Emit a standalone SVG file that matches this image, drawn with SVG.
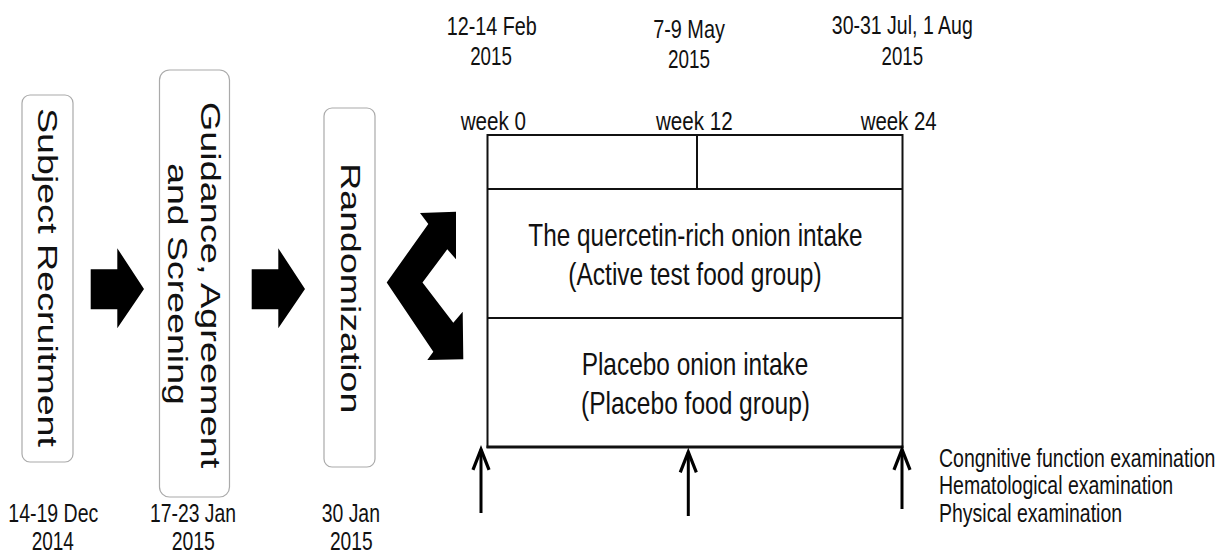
<svg xmlns="http://www.w3.org/2000/svg" width="1228" height="556" viewBox="0 0 1228 556">
<style>
.t{font-family:"Liberation Sans",Arial,sans-serif;fill:#111;}
.s{font-size:26px;}
.b{font-size:25px;}
.m{font-size:32px;}
.r{font-size:37.5px;}
.c{text-anchor:middle;}
.box{fill:#fff;stroke:#aaa;stroke-width:1.2;}
.tbl{fill:none;stroke:#111;stroke-width:2;}
.blk{fill:#000;stroke:none;}
.up{stroke:#000;stroke-width:3;fill:none;}
</style>
<defs>
<marker id="head" markerUnits="userSpaceOnUse" markerWidth="30" markerHeight="30" viewBox="-24 -12 28 24" refX="0" refY="0" orient="auto">
<path d="M-19,-7.5 L0,0 L-19,7.5" fill="none" stroke="#000" stroke-width="3" stroke-linejoin="miter"/>
</marker>
</defs>
<rect width="1228" height="556" fill="#fff"/>

<g id="node-recruitment">
<rect class="box" x="22" y="95" width="51" height="367" rx="8"/>
<text class="t r c" transform="translate(38.3,277.5) scale(0.76,1) rotate(90)" textLength="339" lengthAdjust="spacingAndGlyphs">Subject Recruitment</text>
</g>

<g id="node-screening">
<rect class="box" x="159.5" y="70" width="70" height="427" rx="10"/>
<text class="t r c" transform="translate(200.5,285) scale(0.76,1) rotate(90)" textLength="366.7" lengthAdjust="spacingAndGlyphs">Guidance, Agreement</text>
<text class="t r c" transform="translate(168,284) scale(0.76,1) rotate(90)" textLength="241.7" lengthAdjust="spacingAndGlyphs">and Screening</text>
</g>

<g id="node-randomization">
<rect class="box" x="324" y="108" width="51" height="359" rx="8"/>
<text class="t r c" transform="translate(340.5,288.3) scale(0.76,1) rotate(90)" textLength="250" lengthAdjust="spacingAndGlyphs">Randomization</text>
</g>

<g id="node-schedule">
<rect class="tbl" x="487.5" y="135" width="415" height="312"/>
<line class="tbl" x1="487.5" y1="189" x2="902.5" y2="189"/>
<line class="tbl" x1="697" y1="135" x2="697" y2="189"/>
<line class="tbl" x1="487.5" y1="318" x2="902.5" y2="318"/>
<line class="tbl" x1="486.5" y1="447" x2="903.5" y2="447" style="stroke-width:3"/>
<text class="t m c" x="695.5" y="246" textLength="334.3" lengthAdjust="spacingAndGlyphs">The quercetin-rich onion intake</text>
<text class="t m c" x="695" y="284.5" textLength="253.3" lengthAdjust="spacingAndGlyphs">(Active test food group)</text>
<text class="t m c" x="695" y="375" textLength="226.7" lengthAdjust="spacingAndGlyphs">Placebo onion intake</text>
<text class="t m c" x="695.5" y="413.5" textLength="229" lengthAdjust="spacingAndGlyphs">(Placebo food group)</text>
</g>

<g id="labels-dates-top">
<text class="t s c" x="491.7" y="34.5" textLength="90" lengthAdjust="spacingAndGlyphs">12-14 Feb</text>
<text class="t s c" x="491" y="65" textLength="41.7" lengthAdjust="spacingAndGlyphs">2015</text>
<text class="t s c" x="689" y="37.5" textLength="71.7" lengthAdjust="spacingAndGlyphs">7-9 May</text>
<text class="t s c" x="689" y="67.5" textLength="42" lengthAdjust="spacingAndGlyphs">2015</text>
<text class="t s c" x="902.3" y="33.5" textLength="141" lengthAdjust="spacingAndGlyphs">30-31 Jul, 1 Aug</text>
<text class="t s c" x="902.3" y="65" textLength="41.5" lengthAdjust="spacingAndGlyphs">2015</text>
</g>

<g id="labels-weeks">
<text class="t s c" x="493.3" y="130" textLength="65.3" lengthAdjust="spacingAndGlyphs">week 0</text>
<text class="t s c" x="694.3" y="130" textLength="76.7" lengthAdjust="spacingAndGlyphs">week 12</text>
<text class="t s c" x="898.7" y="130" textLength="76" lengthAdjust="spacingAndGlyphs">week 24</text>
</g>

<g id="labels-dates-bottom">
<text class="t b c" x="53.3" y="522" textLength="90" lengthAdjust="spacingAndGlyphs">14-19 Dec</text>
<text class="t b c" x="52.8" y="550" textLength="42.3" lengthAdjust="spacingAndGlyphs">2014</text>
<text class="t b c" x="193" y="522" textLength="86" lengthAdjust="spacingAndGlyphs">17-23 Jan</text>
<text class="t b c" x="193.3" y="550" textLength="43.3" lengthAdjust="spacingAndGlyphs">2015</text>
<text class="t b c" x="350.8" y="522" textLength="58.3" lengthAdjust="spacingAndGlyphs">30 Jan</text>
<text class="t b c" x="351.3" y="550" textLength="42.7" lengthAdjust="spacingAndGlyphs">2015</text>
</g>

<g id="labels-exams" transform="translate(939,0) scale(0.765,1)">
<text class="t" x="0" y="466.7" style="font-size:25.5px">Congnitive function examination</text>
<text class="t" x="0" y="494" style="font-size:25.5px">Hematological examination</text>
<text class="t" x="0" y="521.7" style="font-size:25.5px">Physical examination</text>
</g>

<g id="connectors">
<polygon class="blk" points="90.7,269.3 117.3,269.3 117.3,248.3 144,289 117.3,328.3 117.3,309.3 90.7,309.3"/>
<polygon class="blk" points="251.7,269.3 278.3,269.3 278.3,248.3 305,289 278.3,328.3 278.3,309.3 251.7,309.3"/>
<polygon class="blk" points="386.7,282.5 428.3,224 420,213 456,211.7 456,259.3 447.3,249.3 422.5,282.5 453.3,322.7 462.7,311.7 463.3,359.3 427.3,360 433.3,351.7"/>
<line class="up" x1="481" y1="513" x2="481" y2="449.5" marker-end="url(#head)"/>
<line class="up" x1="688.3" y1="516" x2="688.3" y2="452" marker-end="url(#head)"/>
<line class="up" x1="902" y1="509" x2="902" y2="449.5" marker-end="url(#head)"/>
</g>
</svg>
